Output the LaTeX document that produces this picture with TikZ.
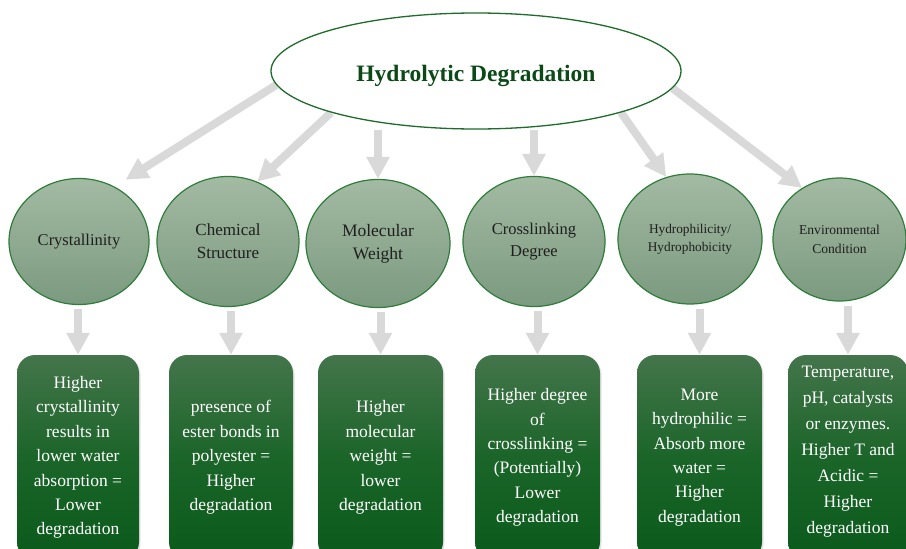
\documentclass[tikz,border=0pt]{standalone}
\usepackage{fontspec}
\setmainfont{Liberation Serif}
\usetikzlibrary{arrows.meta,shapes.geometric,shadows,backgrounds}

\definecolor{arrowgray}{HTML}{D9D9D9}
\definecolor{rimgreen}{HTML}{1E6B2A}
\definecolor{titlegreen}{HTML}{0B4A17}
\definecolor{ballTop}{HTML}{A3BAA3}
\definecolor{ballBottom}{HTML}{7B9A7F}
\definecolor{ballRim}{HTML}{2F7D3B}
\definecolor{boxTop}{HTML}{44754B}
\definecolor{boxMid}{HTML}{1B6529}
\definecolor{boxBottom}{HTML}{0A5A1B}

\tikzset{
  topnode/.style={ellipse, draw=rimgreen, line width=1.3pt, fill=white,
    minimum width=410pt, minimum height=116pt, inner sep=0pt,
    text height=26pt, text depth=4.5pt,
    text=titlegreen, font=\bfseries\fontsize{23.5}{28}\selectfont},
  factor/.style={ellipse, draw=ballRim, line width=1.2pt,
    top color=ballTop, bottom color=ballBottom, inner sep=0pt,
    align=center, text=black!88},
  effect/.style={rectangle, rounded corners=18pt, draw=none,
    top color=boxTop, bottom color=boxBottom, middle color=boxMid,
    minimum height=205pt, inner sep=0pt, align=center, text=white,
    font=\fontsize{17.5}{24.4}\selectfont,
    drop shadow={opacity=0.22, shadow xshift=1.5pt, shadow yshift=-1.5pt}},
  arr/.style={draw=arrowgray, line width=8pt,
    -{Triangle[width=22pt,length=22pt]}},
}

\begin{document}
\begin{tikzpicture}[x=1pt,y=-1pt]
\useasboundingbox (0,0) rectangle (906,549);
\clip (0,0) rectangle (906,549);

% central topic
\node[topnode] (e) at (476,71) {Hydrolytic Degradation};

% influencing factors
\node[factor, minimum width=140pt, minimum height=126pt,
  font=\fontsize{16.5}{23}\selectfont] (c1) at (79,241.5) {Crystallinity};
\node[factor, minimum width=142pt, minimum height=130pt,
  font=\fontsize{17}{23}\selectfont] (c2) at (228,241.5) {Chemical\\Structure};
\node[factor, minimum width=144pt, minimum height=128pt,
  font=\fontsize{17.5}{23}\selectfont] (c3) at (378,243.5) {Molecular\\Weight};
\node[factor, minimum width=142pt, minimum height=130pt,
  font=\fontsize{16.5}{22}\selectfont] (c4) at (534,241.5) {Crosslinking\\Degree};
\node[factor, minimum width=144pt, minimum height=130pt,
  font=\fontsize{13.3}{18}\selectfont] (c5) at (690,239) {Hydrophilicity/\\Hydrophobicity};
\node[factor, minimum width=133pt, minimum height=123pt,
  font=\fontsize{13.6}{19}\selectfont] (c6) at (839.5,239.5) {Environmental\\Condition};

% effect on degradation
\node[effect, minimum width=122pt] (b1) at (78,457.5)
  {Higher\\crystallinity\\results in\\lower water\\absorption =\\Lower\\degradation};
\node[effect, minimum width=124pt] (b2) at (231,457.5)
  {presence of\\ester bonds in\\polyester =\\Higher\\degradation};
\node[effect, minimum width=125pt] (b3) at (380.5,457.5)
  {Higher\\molecular\\weight =\\lower\\degradation};
\node[effect, minimum width=125pt] (b4) at (537.5,457.5)
  {Higher degree\\of\\crosslinking =\\(Potentially)\\Lower\\degradation};
\node[effect, minimum width=125pt] (b5) at (699.5,457.5)
  {More\\hydrophilic =\\Absorb more\\water =\\Higher\\degradation};
\node[effect, minimum width=120pt, font=\fontsize{17.5}{26}\selectfont,
  text height=162pt, text depth=11pt] (b6) at (848,457.5)
  {Temperature,\\pH, catalysts\\or enzymes.\\Higher T and\\Acidic =\\Higher\\degradation};

% connectors, drawn behind the shapes
\begin{scope}[on background layer]
  \fill[white] (0,0) rectangle (906,549);
  \draw[arr, shorten >=13pt] (e.184) -- (c1.57);
  \draw[arr] (e.196) -- (c2.64.5);
  \draw[arr] (c3.north |- e.south) -- (c3.north);
  \draw[arr] (c4.north |- e.south) -- (c4.north);
  \draw[arr] (e.344) -- (c5.111);
  \draw[arr] (e.355.6) -- (c6.126.5);
  \foreach \i in {1,...,6}
    \draw[arr, shorten <=4pt] (b\i.north |- c\i.south) -- (b\i.north);
\end{scope}
\end{tikzpicture}
\end{document}
